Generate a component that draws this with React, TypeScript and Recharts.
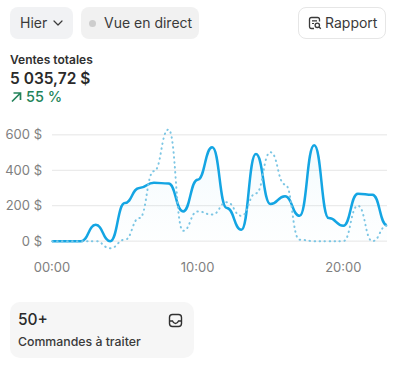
import { ComposedChart, Area, Line, XAxis, YAxis, CartesianGrid } from 'recharts';

const hours = [
    '00:00', '01:00', '02:00', '03:00', '04:00', '05:00', '06:00', '07:00',
    '08:00', '09:00', '10:00', '11:00', '12:00', '13:00', '14:00', '15:00',
    '16:00', '17:00', '18:00', '19:00', '20:00', '21:00', '22:00', '23:00',
];
const today = [0, 0, 0, 92, 0, 215, 300, 330, 325, 168, 347, 530, 187, 64, 492, 209, 253, 143, 541, 130, 87, 268, 262, 90];
const previous = [0, 0, 0, 0, -40, 8, 130, 395, 630, 58, 168, 150, 220, 143, 270, 502, 320, 8, 0, 0, 0, 200, 0, 88];
const yTicks = [0, 200, 400, 600];
const xTicks = ['00:00', '10:00', '20:00'];

const data = hours.map((hour, i) => ({ hour, today: today[i], previous: previous[i] }));

const font = 'Inter, sans-serif';

const box = (left: number, top: number, width: number, height: number): React.CSSProperties => ({
    position: 'absolute', left, top, width, height, boxSizing: 'border-box',
});

function label(text: string, left: number, top: number, size: number, color: string, weight = 400) {
    return (
        <div style={{ position: 'absolute', left, top, fontSize: size, lineHeight: `${size + 4}px`, color, fontWeight: weight, whiteSpace: 'nowrap' }}>
            {text}
        </div>
    );
}

export default function App() {
    return (
        <div style={{ position: 'absolute', left: 0, top: 0, width: 400, height: 371, background: '#fff', overflow: 'hidden', fontFamily: font }}>
            <div style={{ ...box(10, 7, 63, 32), background: '#f1f2f4', borderRadius: 8 }} />
            {label('Hier', 20, 14, 14, '#3a3a3a')}
            <svg style={box(53, 19, 10, 8)} viewBox="0 0 10 8">
                <path d="M1 2 L5 6 L9 2" fill="none" stroke="#3a3a3a" strokeWidth="1.2" strokeLinecap="round" strokeLinejoin="round" />
            </svg>

            <div style={{ ...box(81, 7, 118, 32), background: '#f1f1f1', borderRadius: 8 }} />
            <div style={{ ...box(89, 20, 7, 7), background: '#cdcdcd', borderRadius: 4 }} />
            {label('Vue en direct', 104, 14, 14, '#3a3a3a')}

            <div style={{ ...box(298, 7, 88, 32), background: '#fff', border: '1px solid #e6e6e6', borderRadius: 8 }} />
            <svg style={box(308, 16, 14, 14)} viewBox="0 0 14 14">
                <path d="M6 12.5 H3.5 Q1.5 12.5 1.5 10.5 V3.5 Q1.5 1.5 3.5 1.5 H9.5 Q11.5 1.5 11.5 3.5 V5.5" fill="none" stroke="#3a3a3a" strokeWidth="1.3" />
                <path d="M4 4.8 H9 M4 7.5 H6" stroke="#3a3a3a" strokeWidth="1.2" />
                <circle cx="9.3" cy="9.3" r="2.2" fill="none" stroke="#3a3a3a" strokeWidth="1.3" />
                <path d="M11 11 L12.8 12.8" stroke="#3a3a3a" strokeWidth="1.3" />
            </svg>
            {label('Rapport', 325, 14, 14, '#3a3a3a')}

            {label('Ventes totales', 10, 52, 12, '#303030', 600)}
            {label('5 035,72 $', 10, 69, 15.5, '#2a2a2a', 600)}
            <svg style={box(10, 91, 12, 12)} viewBox="0 0 12 12">
                <path d="M2 10.5 L10 2.5 M3.5 2 H10.5 V9" fill="none" stroke="#23835a" strokeWidth="1.7" />
            </svg>
            {label('55 %', 26, 88, 14.5, '#23835a', 500)}

            <div style={{ position: 'absolute', left: 0, top: 115 }}>
                <ComposedChart
                    width={400}
                    height={170}
                    data={data}
                    margin={{ top: 11, right: 13, bottom: 5, left: 0 }}
                >
                    <defs>
                        <linearGradient id="todayFill" x1="0" y1="0" x2="0" y2="1">
                            <stop offset="0%" stopColor="#19a7e0" stopOpacity={0.08} />
                            <stop offset="100%" stopColor="#19a7e0" stopOpacity={0.01} />
                        </linearGradient>
                    </defs>
                    <CartesianGrid vertical={false} horizontalValues={yTicks} stroke="#e6e6e6" strokeWidth={1} />
                    <XAxis
                        dataKey="hour"
                        ticks={xTicks}
                        interval={0}
                        axisLine={false}
                        tickLine={false}
                        tickMargin={7}
                        tick={{ fontSize: 13, fill: '#808080', fontFamily: font }}
                    />
                    <YAxis
                        width={52}
                        domain={[-50, 650]}
                        ticks={yTicks}
                        tickFormatter={(v: number) => `${v} $`}
                        axisLine={false}
                        tickLine={false}
                        tickMargin={4}
                        tick={{ fontSize: 13, fill: '#808080', fontFamily: font }}
                    />
                    <Line
                        type="bumpX"
                        dataKey="previous"
                        stroke="#7cc6e4"
                        strokeWidth={2}
                        strokeDasharray="0.5 4.5"
                        strokeLinecap="round"
                        dot={false}
                        isAnimationActive={false}
                    />
                    <Area
                        type="bumpX"
                        dataKey="today"
                        stroke="#14a5e3"
                        strokeWidth={2.5}
                        fill="url(#todayFill)"
                        dot={false}
                        isAnimationActive={false}
                    />
                </ComposedChart>
            </div>

            <div style={{ ...box(10, 302, 184, 56), background: '#f6f6f6', borderRadius: 10 }} />
            {label('50+', 18, 310, 15.5, '#2a2a2a', 500)}
            <svg style={box(168, 313, 15, 15)} viewBox="0 0 15 15">
                <rect x="1.5" y="1.5" width="12" height="12" rx="3" fill="none" stroke="#303030" strokeWidth="1.4" />
                <path d="M1.5 8 H4.5 Q5.5 10.5 7.5 10.5 Q9.5 10.5 10.5 8 H13.5" fill="none" stroke="#303030" strokeWidth="1.4" />
            </svg>
            {label('Commandes à traiter', 18, 334, 12.3, '#3a3a3a', 500)}
        </div>
    );
}
